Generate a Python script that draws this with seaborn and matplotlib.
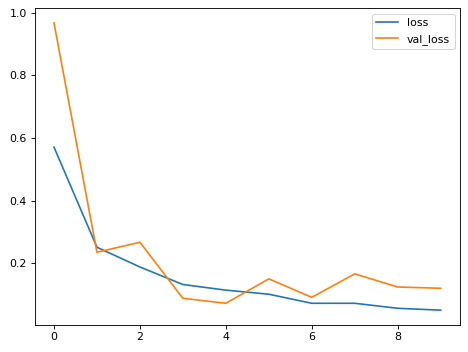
import pandas as pd
import matplotlib
matplotlib.use("Agg")
import matplotlib.pyplot as plt
import seaborn as sns

# Training history values
epochs = list(range(10))
loss = [0.571, 0.251, 0.188, 0.132, 0.114, 0.101, 0.072, 0.072, 0.056, 0.050]
val_loss = [0.968, 0.235, 0.267, 0.088, 0.072, 0.150, 0.091, 0.166, 0.124, 0.120]

df = pd.DataFrame({"epoch": epochs, "loss": loss, "val_loss": val_loss})
long_df = df.melt(id_vars="epoch", var_name="series", value_name="value")

dpi = 79.2
fig = plt.figure(figsize=(468 / dpi, 352 / dpi), dpi=dpi)
ax = fig.add_axes([0.074, 0.078, 0.909, 0.898])

sns.lineplot(data=long_df, x="epoch", y="value", hue="series",
             palette=["#1f77b4", "#ff7f0e"], linewidth=1.5, ax=ax)

ax.set_xlabel("")
ax.set_ylabel("")
ax.set_xticks([0, 2, 4, 6, 8])
ax.set_yticks([0.2, 0.4, 0.6, 0.8, 1.0])
ax.tick_params(labelsize=10)
handles, labels = ax.get_legend_handles_labels()
ax.legend(handles, labels, loc="upper right", fontsize=10)

fig.savefig("out.png", dpi=dpi)
